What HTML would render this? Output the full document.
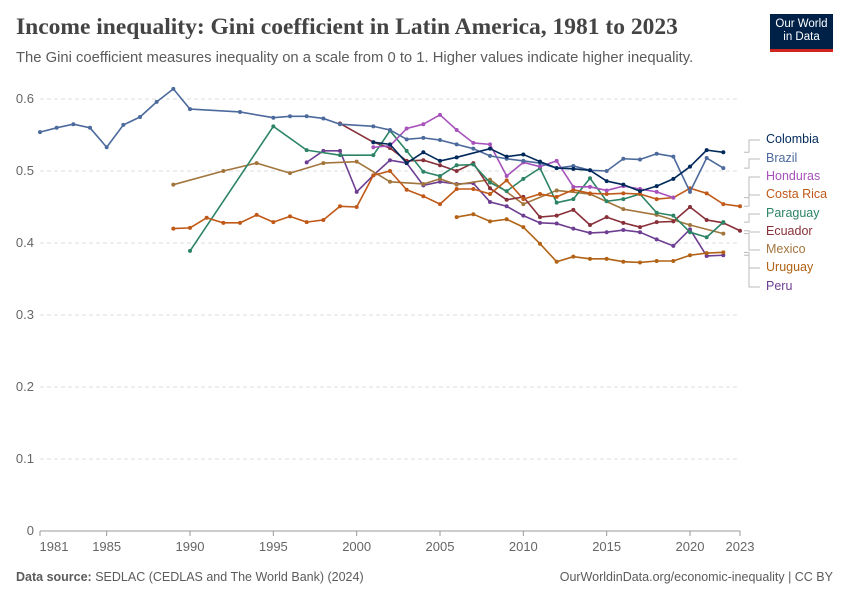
<!DOCTYPE html>
<html><head><meta charset="utf-8"><style>
body{margin:0;background:#fff;font-family:"Liberation Sans",sans-serif;}
#wrap{position:relative;width:850px;height:600px;overflow:hidden;}
.title{position:absolute;left:16px;top:14px;font-family:"Liberation Serif",serif;font-size:23.5px;font-weight:bold;color:#444;}
.sub{position:absolute;left:16px;top:50px;font-size:14.8px;color:#5b5b5b;}
.logo{position:absolute;left:770px;top:14px;width:63px;height:38px;background:#002147;color:#fff;font-size:11.5px;line-height:13px;text-align:center;padding-top:4px;box-sizing:border-box;border-bottom:3px solid #ce261e;}
.foot{position:absolute;top:570px;font-size:12.5px;color:#5b5b5b;}
</style></head><body>
<div id="wrap">
<div class="title">Income inequality: Gini coefficient in Latin America, 1981 to 2023</div>
<div class="sub">The Gini coefficient measures inequality on a scale from 0 to 1. Higher values indicate higher inequality.</div>
<div class="logo">Our World<br>in Data</div>
<svg id="chart" width="850" height="600" style="position:absolute;left:0;top:0"></svg>
<div class="foot" style="left:16px"><b>Data source:</b> SEDLAC (CEDLAS and The World Bank) (2024)</div>
<div class="foot" style="right:17px">OurWorldinData.org/economic-inequality | CC BY</div>
</div>
<script>
const yTicks=[0,0.1,0.2,0.3,0.4,0.5,0.6];
const xTicks=[1981,1985,1990,1995,2000,2005,2010,2015,2020,2023];
const seriesNames=["Colombia","Brazil","Honduras","Costa Rica","Paraguay","Ecuador","Mexico","Uruguay","Peru"];
const seriesColors=["#00295b","#4c6a9c","#a652ba","#c05917","#2c8465","#883039","#a2753d","#b16214","#6d3e91"];
const colombiaYears=[2001,2002,2003,2004,2005,2006,2008,2009,2010,2011,2012,2013,2014,2015,2016,2017,2018,2019,2020,2021,2022];
const colombiaVals=[.540,.537,.511,.526,.514,.519,.531,.520,.523,.513,.504,.503,.501,.486,.481,.472,.479,.489,.506,.529,.526];
const brazilYears=[1981,1982,1983,1984,1985,1986,1987,1988,1989,1990,1993,1995,1996,1997,1998,1999,2001,2002,2003,2004,2005,2006,2007,2008,2009,2010,2011,2012,2013,2014,2015,2016,2017,2018,2019,2020,2021,2022];
const brazilVals=[.554,.560,.565,.560,.533,.564,.575,.596,.614,.586,.582,.574,.576,.576,.573,.565,.562,.557,.544,.546,.543,.537,.531,.521,.517,.514,.511,.504,.507,.501,.500,.517,.516,.524,.520,.471,.518,.504];
const hondurasYears=[2001,2002,2003,2004,2005,2006,2007,2008,2009,2010,2011,2012,2013,2014,2015,2016,2017,2018,2019];
const hondurasVals=[.533,.535,.559,.565,.578,.557,.539,.537,.493,.512,.506,.514,.478,.478,.473,.479,.475,.471,.463];
const costaYears=[1989,1990,1991,1992,1993,1994,1995,1996,1997,1998,1999,2000,2001,2002,2003,2004,2005,2006,2007,2008,2009,2010,2011,2012,2013,2014,2015,2016,2017,2018,2019,2020,2021,2022,2023];
const costaVals=[.420,.421,.435,.428,.428,.439,.429,.437,.429,.432,.451,.450,.494,.500,.474,.465,.454,.475,.475,.468,.487,.461,.468,.464,.474,.469,.468,.469,.468,.461,.463,.476,.469,.454,.451];
const paraguayYears=[1990,1995,1997,1999,2001,2002,2003,2004,2005,2006,2007,2008,2009,2010,2011,2012,2013,2014,2015,2016,2017,2018,2019,2020,2021,2022];
const paraguayVals=[.389,.562,.529,.522,.522,.556,.528,.499,.493,.508,.509,.484,.472,.489,.504,.456,.461,.490,.458,.461,.468,.442,.438,.415,.408,.429];
const ecuadorYears=[1999,2001,2002,2003,2004,2005,2006,2007,2008,2009,2010,2011,2012,2013,2014,2015,2016,2017,2018,2019,2020,2021,2022,2023];
const ecuadorVals=[.566,.540,.532,.514,.515,.508,.500,.511,.476,.460,.464,.436,.438,.446,.425,.436,.428,.422,.429,.430,.450,.432,.428,.417];
const mexicoYears=[1989,1992,1994,1996,1998,2000,2002,2004,2005,2006,2008,2010,2012,2014,2016,2018,2020,2022];
const mexicoVals=[.481,.500,.511,.497,.511,.513,.485,.482,.489,.481,.488,.454,.473,.468,.447,.439,.425,.413];
const uruguayYears=[2006,2007,2008,2009,2010,2011,2012,2013,2014,2015,2016,2017,2018,2019,2020,2021,2022];
const uruguayVals=[.436,.440,.430,.433,.422,.399,.374,.381,.378,.378,.374,.373,.375,.375,.383,.386,.387];
const peruYears=[1997,1998,1999,2000,2001,2002,2003,2004,2005,2006,2007,2008,2009,2010,2011,2012,2013,2014,2015,2016,2017,2018,2019,2020,2021,2022];
const peruVals=[.512,.528,.528,.471,.494,.515,.511,.480,.485,.482,.483,.457,.451,.438,.428,.427,.420,.414,.415,.418,.415,.405,.396,.419,.382,.383];
const allYears=[colombiaYears,brazilYears,hondurasYears,costaYears,paraguayYears,ecuadorYears,mexicoYears,uruguayYears,peruYears];
const allVals=[colombiaVals,brazilVals,hondurasVals,costaVals,paraguayVals,ecuadorVals,mexicoVals,uruguayVals,peruVals];
const legendY=[144,163,181,199,218,236,254,272,291];

const svg=document.getElementById('chart');const NS='http://www.w3.org/2000/svg';
const X0=40,X1=740,Y0=531,Y6=99;
const xs=y=>X0+(y-1981)*(X1-X0)/(2023-1981);
const ys=v=>Y0-v*(Y0-Y6)/0.6;
function mk(t,a){const e=document.createElementNS(NS,t);for(const k in a)e.setAttribute(k,a[k]);svg.appendChild(e);return e;}
yTicks.forEach(t=>{
  const l=mk('line',{x1:X0,x2:X1,y1:ys(t),y2:ys(t),stroke:t===0?'#999':'#ddd','stroke-dasharray':t===0?'':'4,3'});
  
  
  const tx=mk('text',{x:34,y:ys(t)+4,'text-anchor':'end','font-size':13,fill:'#666','font-family':'Liberation Sans, sans-serif'});
  tx.textContent=t===0?'0':t.toFixed(1);
  
  
});
xTicks.forEach(t=>{
  const l=mk('line',{x1:xs(t),x2:xs(t),y1:Y0,y2:Y0+5,stroke:'#999'});
  
  
  const tx=mk('text',{x:xs(t)+(t===1981?14:0),y:551,'text-anchor':'middle','font-size':13,fill:'#666','font-family':'Liberation Sans, sans-serif'});
  tx.textContent=t;
  
  
});
for(let i=allYears.length-1;i>=0;i--){
  const yr=allYears[i],vl=allVals[i],c=seriesColors[i];
  const pts=yr.map((y,j)=>xs(y)+','+ys(vl[j])).join(' ');
  const pl=mk('polyline',{points:pts,fill:'none',stroke:c,'stroke-width':1.6,'stroke-linejoin':'round'});
  
  
  yr.forEach((y,j)=>{
    const d=mk('circle',{cx:xs(y),cy:ys(vl[j]),r:2,fill:c});
    
    
  });
  const ly=ys(vl[vl.length-1]);
  const ld=mk('polyline',{points:`${X1+4},${ly} ${X1+9},${ly} ${X1+9},${legendY[i]-4} ${X1+20},${legendY[i]-4}`,fill:'none',stroke:'#bbb','stroke-width':1});
  
  
  const t=mk('text',{x:766,y:legendY[i]-1,'font-size':12.5,fill:c,'font-family':'Liberation Sans, sans-serif'});
  t.textContent=seriesNames[i];
  
  
}
</script>
</body></html>
